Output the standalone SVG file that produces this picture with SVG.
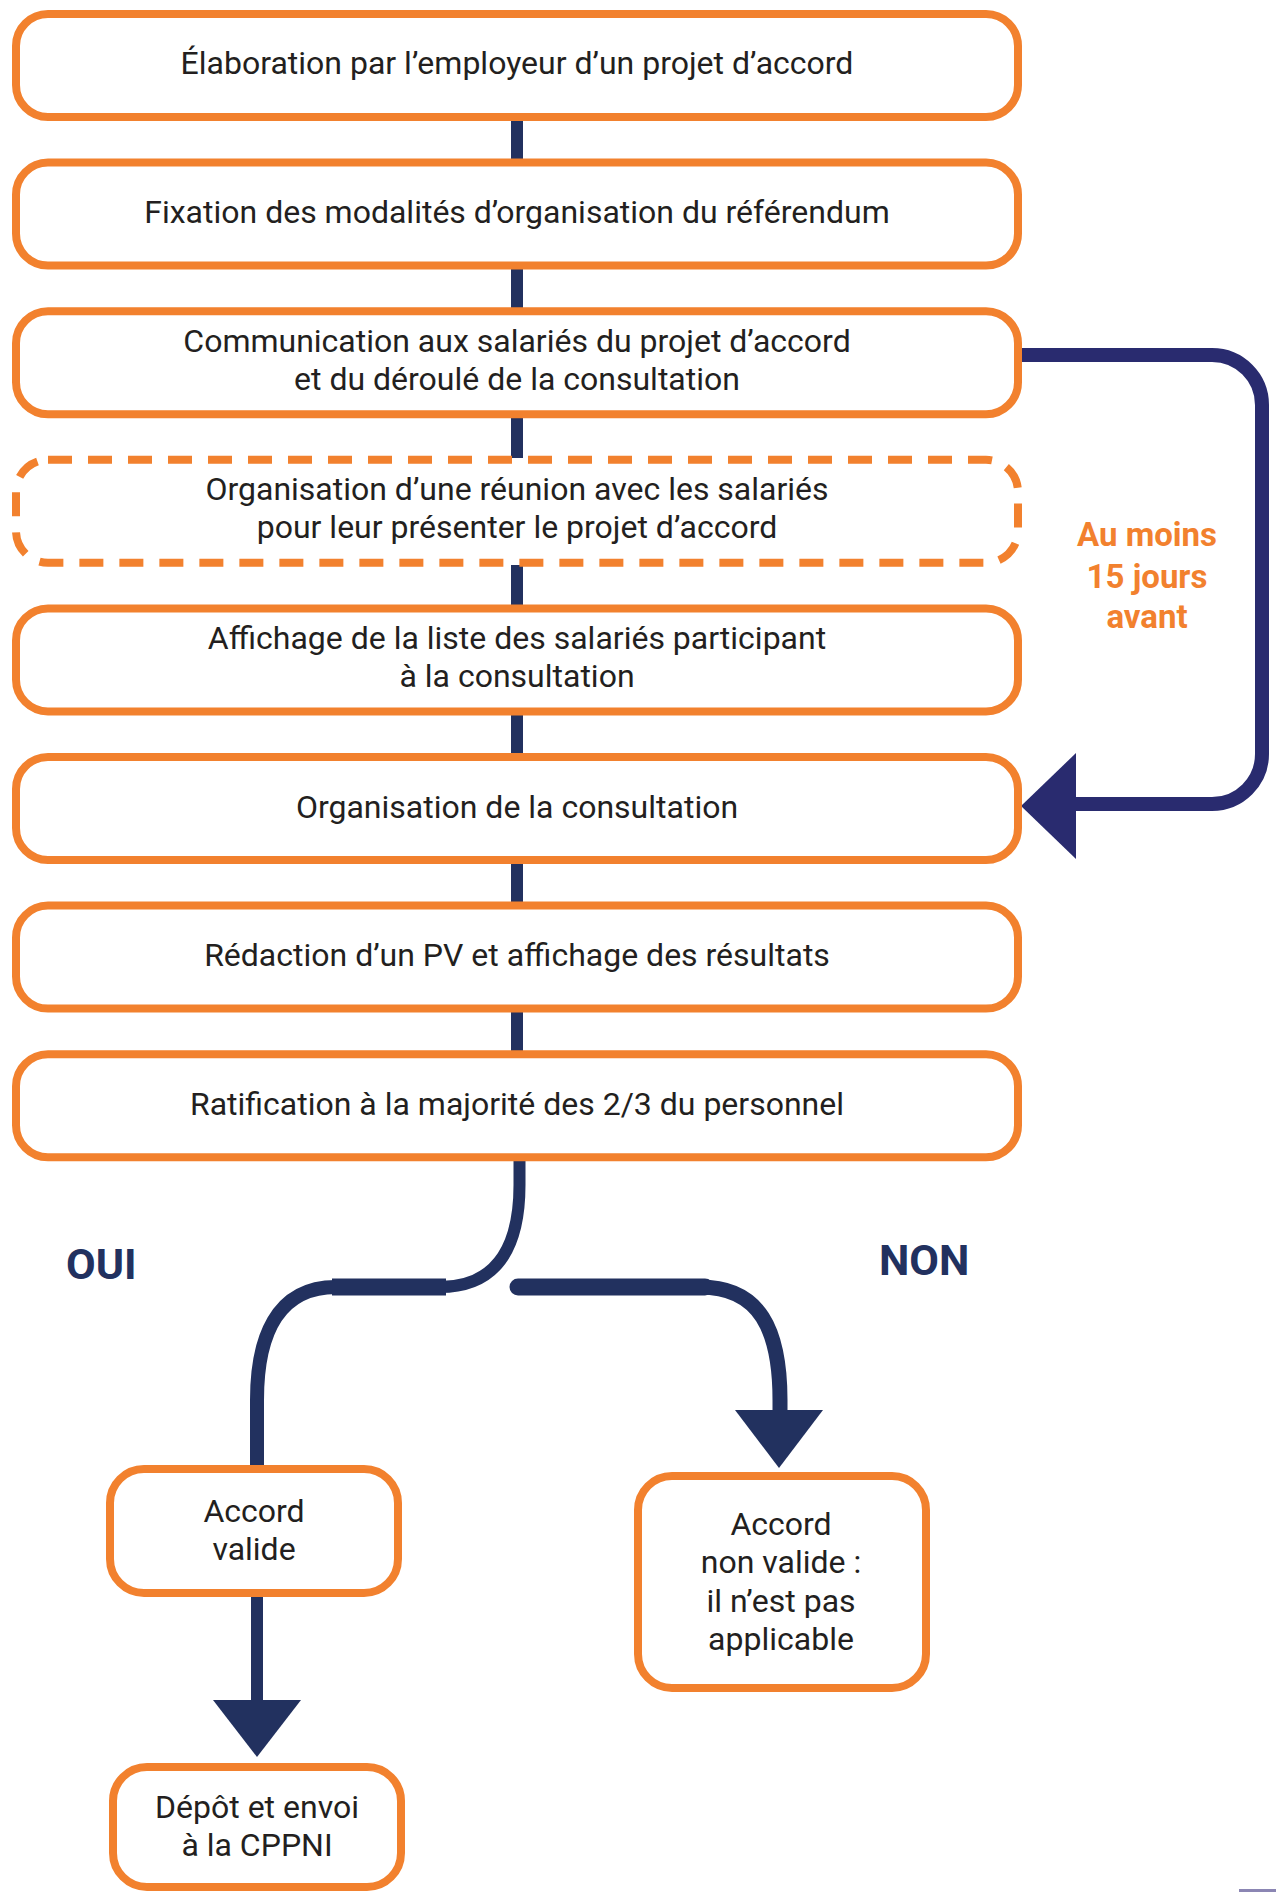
<svg xmlns="http://www.w3.org/2000/svg" width="1276" height="1892" viewBox="0 0 1276 1892">
<style>
.box{fill:#fff;stroke:#f2812e;stroke-width:8}
.dash{fill:#fff;stroke:#f2812e;stroke-width:8;stroke-dasharray:24 16}
.t{font-family:Roboto,"Liberation Sans",sans-serif;font-size:32px;fill:#231f20;text-anchor:middle}
.lbl{font-family:Roboto,"Liberation Sans",sans-serif;font-weight:bold;font-size:43px;fill:#22315f;text-anchor:start}
.or{font-family:Roboto,"Liberation Sans",sans-serif;font-weight:bold;font-size:33px;fill:#f2812e;text-anchor:middle}
.ln{fill:none;stroke:#22315f}
.fb{fill:none;stroke:#292b6f;stroke-width:14}
</style>
<rect width="1276" height="1892" fill="#fff"/>
<g id="connectors">
<line class="ln" stroke-width="12" x1="517" y1="119" x2="517" y2="161"/>
<line class="ln" stroke-width="12" x1="517" y1="267" x2="517" y2="310"/>
<line class="ln" stroke-width="12" x1="517" y1="416" x2="517" y2="458"/>
<line class="ln" stroke-width="12" x1="517" y1="565" x2="517" y2="607"/>
<line class="ln" stroke-width="12" x1="517" y1="713" x2="517" y2="756"/>
<line class="ln" stroke-width="12" x1="517" y1="862" x2="517" y2="904"/>
<line class="ln" stroke-width="12" x1="517" y1="1010" x2="517" y2="1053"/>
<path class="fb" d="M1019,355 L1212,355 A50,50 0 0 1 1262,405 L1262,754 A50,50 0 0 1 1212,804 L1074,804"/>
<polygon fill="#292b6f" points="1076,753 1076,859 1021,806"/>
<path class="ln" stroke-width="12" d="M519.5,1160 L519.5,1185 C519.5,1250 495,1287 440,1287"/>
<line class="ln" stroke-width="17" x1="446" y1="1287" x2="332" y2="1287"/>
<path class="ln" stroke-width="14" d="M336,1287 C275,1287 257,1340 257,1400 L257,1468"/>
<line class="ln" stroke-width="17" stroke-linecap="round" x1="518" y1="1287" x2="705" y2="1287"/>
<path class="ln" stroke-width="15" d="M700,1287 C760,1287 780,1330 780,1400 L780,1414"/>
<polygon fill="#22315f" points="735,1410 823,1410 779,1468"/>
<line class="ln" stroke-width="12" x1="257" y1="1595" x2="257" y2="1702"/>
<polygon fill="#22315f" points="213,1700 301,1700 257,1757"/>
</g>
<g id="n1"><rect class="box" x="16" y="14" width="1002" height="103" rx="32"/><text class="t" x="517" y="74">Élaboration par l’employeur d’un projet d’accord</text></g>
<g id="n2"><rect class="box" x="16" y="162.6" width="1002" height="103" rx="32"/><text class="t" x="517" y="223">Fixation des modalités d’organisation du référendum</text></g>
<g id="n3"><rect class="box" x="16" y="311.2" width="1002" height="103" rx="32"/><text class="t" x="517" y="352">Communication aux salariés du projet d’accord</text><text class="t" x="517" y="390">et du déroulé de la consultation</text></g>
<g id="n4"><rect class="dash" x="16" y="459.8" width="1002" height="103" rx="32"/><text class="t" x="517" y="500">Organisation d’une réunion avec les salariés</text><text class="t" x="517" y="538">pour leur présenter le projet d’accord</text></g>
<g id="n5"><rect class="box" x="16" y="608.4" width="1002" height="103" rx="32"/><text class="t" x="517" y="649">Affichage de la liste des salariés participant</text><text class="t" x="517" y="687">à la consultation</text></g>
<g id="n6"><rect class="box" x="16" y="757" width="1002" height="103" rx="32"/><text class="t" x="517" y="817.5">Organisation de la consultation</text></g>
<g id="n7"><rect class="box" x="16" y="905.6" width="1002" height="103" rx="32"/><text class="t" x="517" y="966">Rédaction d’un PV et affichage des résultats</text></g>
<g id="n8"><rect class="box" x="16" y="1054.2" width="1002" height="103" rx="32"/><text class="t" x="517" y="1115">Ratification à la majorité des 2/3 du personnel</text></g>
<g id="delay"><text class="or" x="1147" y="546">Au moins</text><text class="or" x="1147" y="588">15 jours</text><text class="or" x="1147" y="628">avant</text></g>
<g id="oui"><text class="lbl" x="66" y="1279">OUI</text></g>
<g id="non"><text class="lbl" x="879" y="1275">NON</text></g>
<g id="n9"><rect class="box" x="110" y="1469" width="288" height="124" rx="34"/><text class="t" x="254" y="1522">Accord</text><text class="t" x="254" y="1560">valide</text></g>
<g id="n10"><rect class="box" x="638" y="1476" width="288" height="212" rx="34"/><text class="t" x="781" y="1535">Accord</text><text class="t" x="781" y="1573">non valide :</text><text class="t" x="781" y="1612">il n’est pas</text><text class="t" x="781" y="1650">applicable</text></g>
<g id="n11"><rect class="box" x="113" y="1767" width="288" height="120" rx="34"/><text class="t" x="257" y="1818">Dépôt et envoi</text><text class="t" x="257" y="1856">à la CPPNI</text></g>
<rect x="1239" y="1889" width="37" height="3" fill="#8b86b3"/>
</svg>
